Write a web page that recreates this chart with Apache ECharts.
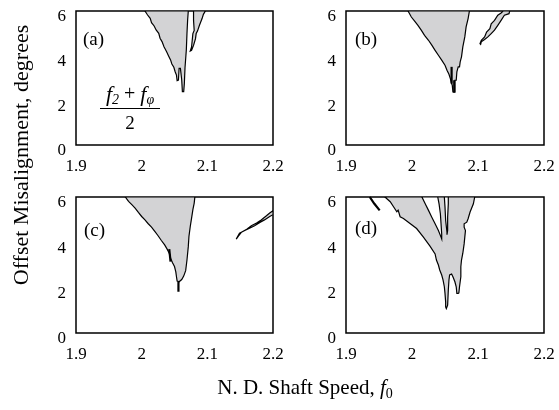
<!DOCTYPE html>
<html><head><meta charset="utf-8">
<script src="https://cdn.jsdelivr.net/npm/echarts@6/dist/echarts.min.js"></script>
<style>html,body{margin:0;padding:0;background:#fff}#c{width:559px;height:410px}</style>
</head><body><div id="c"></div>
<script>
// ---- tick labels / axis ranges ----
const xTicks = [1.9, 2.0, 2.1, 2.2];
const yTicks = [0, 2, 4, 6];
const panelLabels = ['(a)', '(b)', '(c)', '(d)'];

// ---- panel (a) instability regions: [f0, misalignment] outline points ----
const regionA1 = [[2.005,6],[2.009,5.82],[2.013,5.67],[2.015,5.48],[2.019,5.33],[2.022,5.15],[2.026,5.00],[2.028,4.78],[2.031,4.63],[2.034,4.40],[2.038,4.18],[2.041,3.99],[2.044,3.81],[2.046,3.63],[2.049,3.48],[2.051,3.28],[2.053,3.13],[2.054,2.88],[2.056,2.91],[2.057,3.43],[2.059,3.43],[2.061,2.91],[2.062,2.39],[2.064,2.39],[2.065,2.76],[2.066,3.46],[2.068,4.25],[2.069,5.00],[2.070,5.60],[2.071,6]];
const regionA2 = [[2.079,6],[2.079,5.58],[2.080,5.13],[2.078,4.99],[2.077,4.69],[2.076,4.39],[2.074,4.21],[2.076,4.24],[2.079,4.46],[2.082,4.76],[2.083,4.99],[2.085,5.10],[2.088,5.36],[2.092,5.66],[2.094,5.85],[2.097,6]];

// ---- panel (b) ----
const regionB1 = [[1.994,6],[1.999,5.73],[2.004,5.55],[2.009,5.36],[2.014,5.14],[2.019,4.91],[2.025,4.69],[2.030,4.47],[2.035,4.24],[2.040,4.02],[2.045,3.80],[2.050,3.57],[2.053,3.35],[2.056,3.17],[2.058,2.98],[2.060,2.75],[2.061,2.68],[2.062,2.38],[2.065,2.38],[2.065,2.90],[2.067,2.90],[2.068,3.28],[2.070,3.50],[2.072,3.50],[2.073,3.72],[2.075,3.95],[2.077,4.39],[2.080,4.84],[2.082,5.29],[2.085,5.66],[2.087,6]];
const regionB2 = [[2.103,4.54],[2.105,4.69],[2.110,4.84],[2.113,5.06],[2.118,5.21],[2.120,5.43],[2.125,5.58],[2.130,5.81],[2.135,5.91],[2.138,6],[2.148,6],[2.147,5.88],[2.140,5.81],[2.135,5.58],[2.130,5.36],[2.125,5.14],[2.120,4.99],[2.115,4.84],[2.110,4.72],[2.105,4.62],[2.104,4.51]];
const spikesB = [[[2.060,3.50],[2.060,2.75]], [[2.064,2.90],[2.064,2.34]]];

// ---- panel (c) ----
const regionC1 = [[1.975,6],[1.980,5.81],[1.985,5.66],[1.990,5.51],[1.995,5.32],[2.000,5.14],[2.005,4.99],[2.010,4.82],[2.015,4.67],[2.020,4.48],[2.025,4.29],[2.030,4.08],[2.035,3.89],[2.039,3.69],[2.042,3.52],[2.044,3.30],[2.047,3.10],[2.050,2.93],[2.052,2.70],[2.053,2.48],[2.054,2.29],[2.057,2.26],[2.061,2.36],[2.064,2.51],[2.067,2.75],[2.069,3.22],[2.071,3.81],[2.072,4.26],[2.074,4.70],[2.076,5.07],[2.078,5.44],[2.080,5.73],[2.081,6]];
const regionC2 = [[2.144,4.14],[2.149,4.40],[2.157,4.52],[2.165,4.63],[2.172,4.73],[2.180,4.88],[2.187,4.99],[2.195,5.14],[2.200,5.22],[2.200,5.39],[2.195,5.29],[2.190,5.17],[2.182,4.99],[2.175,4.85],[2.167,4.73],[2.160,4.58],[2.152,4.45],[2.147,4.26]];
const spikesC = [[[2.042,3.70],[2.044,3.15]], [[2.056,2.26],[2.056,1.82]]];

// ---- panel (d) ----
const regionD1 = [[1.959,6],[1.967,5.79],[1.972,5.57],[1.977,5.35],[1.979,5.42],[1.982,5.13],[1.987,5.05],[1.997,4.83],[2.007,4.61],[2.017,4.24],[2.027,3.84],[2.035,3.49],[2.037,3.22],[2.040,3.00],[2.042,2.78],[2.045,2.56],[2.047,2.34],[2.049,2.04],[2.050,1.75],[2.051,1.37],[2.051,1.15],[2.052,1.08],[2.054,1.23],[2.055,1.89],[2.056,2.34],[2.057,2.56],[2.060,2.60],[2.062,2.48],[2.065,2.26],[2.067,2.04],[2.068,1.75],[2.070,1.75],[2.071,1.77],[2.072,2.04],[2.074,2.48],[2.074,2.92],[2.075,3.22],[2.077,3.52],[2.079,3.93],[2.080,4.23],[2.081,4.52],[2.079,4.67],[2.079,4.82],[2.083,4.89],[2.085,5.04],[2.088,5.34],[2.093,5.70],[2.095,6]];
const gapD1 = [[2.015,6],[2.020,5.70],[2.025,5.41],[2.030,5.11],[2.035,4.82],[2.040,4.52],[2.044,4.23],[2.045,4.15],[2.045,4.37],[2.044,4.82],[2.043,5.26],[2.041,5.70],[2.039,6]];
const gapD2 = [[2.049,6],[2.050,5.56],[2.051,4.96],[2.053,4.45],[2.053,4.34],[2.054,4.52],[2.054,5.11],[2.055,5.70],[2.055,6]];
const spikesD = [[[1.936,6],[1.943,5.70],[1.951,5.41]]];

const panels = [
  { fills: [regionA1, regionA2], gaps: [], spikes: [] },
  { fills: [regionB1, regionB2], gaps: [], spikes: spikesB },
  { fills: [regionC1, regionC2], gaps: [], spikes: spikesC },
  { fills: [regionD1], gaps: [gapD1, gapD2], spikes: spikesD }
];

const FONT = '"Liberation Serif", "Times New Roman", serif';
const GRAY = '#d3d3d5';

const gridPos = [
  { left: 76, top: 11, width: 197, height: 134 },
  { left: 346, top: 11, width: 198, height: 134 },
  { left: 76, top: 197, width: 197, height: 136 },
  { left: 346, top: 197, width: 198, height: 136 }
];

const grids = [], xAxes = [], yAxes = [], series = [];
gridPos.forEach((g, i) => {
  grids.push(Object.assign({ show: true, borderColor: '#000', borderWidth: 1.5, backgroundColor: 'transparent', containLabel: false }, g));
  xAxes.push({
    type: 'value', gridIndex: i, min: xTicks[0], max: xTicks[xTicks.length - 1], interval: 0.1,
    axisLine: { show: false }, axisTick: { show: false }, splitLine: { show: false },
    axisLabel: { color: '#000', fontFamily: FONT, fontSize: 17, margin: 13,
      formatter: v => String(+v.toFixed(1)) }
  });
  yAxes.push({
    type: 'value', gridIndex: i, min: yTicks[0], max: yTicks[yTicks.length - 1], interval: 2,
    axisLine: { show: false }, axisTick: { show: false }, splitLine: { show: false },
    axisLabel: { color: '#000', fontFamily: FONT, fontSize: 17, margin: 10, verticalAlign: 'top', lineHeight: 12 }
  });
  const p = panels[i];
  const addPoly = (pts, fill) => series.push({
    type: 'custom', xAxisIndex: i, yAxisIndex: i, data: [0], silent: true, animation: false, clip: true,
    renderItem: (params, api) => ({
      type: 'polygon',
      shape: { points: pts.map(pt => api.coord(pt)) },
      style: { fill: fill, stroke: '#000', lineWidth: 1.2, lineJoin: 'miter' }
    })
  });
  p.fills.forEach(pts => addPoly(pts, GRAY));
  p.gaps.forEach(pts => addPoly(pts, '#fff'));
  p.spikes.forEach(pts => series.push({
    type: 'line', xAxisIndex: i, yAxisIndex: i, data: pts, symbol: 'none', silent: true, animation: false,
    lineStyle: { color: '#000', width: 2.2 }, z: 5
  }));
});

const labelPos = [[83, 40], [355, 40], [84, 231], [355, 229]];
const graphic = labelPos.map((lp, i) => ({
  type: 'text', x: lp[0], y: lp[1],
  style: { text: panelLabels[i], fontFamily: FONT, fontSize: 19, fill: '#000', align: 'left', verticalAlign: 'middle' }
}));
graphic.push({
  type: 'text', x: 22, y: 155, rotation: Math.PI / 2,
  style: { text: 'Offset Misalignment, degrees', fontFamily: FONT, fontSize: 22, fill: '#000', align: 'center', verticalAlign: 'middle' }
});
graphic.push({
  type: 'text', x: 305, y: 388,
  style: {
    text: 'N. D. Shaft Speed, {i|f}{s|0}', fontFamily: FONT, fontSize: 21, fill: '#000', align: 'center', verticalAlign: 'middle',
    lineHeight: 26,
    rich: {
      i: { fontFamily: FONT, fontSize: 21, fontStyle: 'italic', lineHeight: 26 },
      s: { fontFamily: FONT, fontSize: 14, lineHeight: 14, verticalAlign: 'bottom' }
    }
  }
});
graphic.push({
  type: 'text', x: 130, y: 95,
  style: {
    text: '{i|f}{s|2}{n| + }{i|f}{s|φ}', fontFamily: FONT, fontSize: 20, fill: '#000', align: 'center', verticalAlign: 'middle',
    lineHeight: 24,
    rich: {
      i: { fontFamily: FONT, fontSize: 22, fontStyle: 'italic', lineHeight: 24 },
      n: { fontFamily: FONT, fontSize: 20, lineHeight: 24 },
      s: { fontFamily: FONT, fontSize: 14, fontStyle: 'italic', lineHeight: 14, verticalAlign: 'bottom' }
    }
  }
});
graphic.push({ type: 'line', shape: { x1: 100, y1: 108.5, x2: 160, y2: 108.5 }, style: { stroke: '#000', lineWidth: 1.2 } });
graphic.push({
  type: 'text', x: 130, y: 124,
  style: { text: '2', fontFamily: FONT, fontSize: 19, fill: '#000', align: 'center', verticalAlign: 'middle' }
});

const chart = echarts.init(document.getElementById('c'), null, { renderer: 'canvas' });
chart.setOption({
  animation: false,
  backgroundColor: '#fff',
  grid: grids, xAxis: xAxes, yAxis: yAxes, series: series, graphic: graphic
});
</script>
</body></html>
